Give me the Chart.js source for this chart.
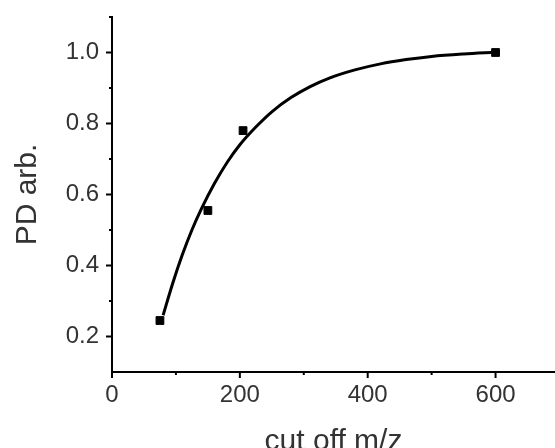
<!DOCTYPE html>
<html><head><meta charset="utf-8">
<script src="https://cdn.jsdelivr.net/npm/chart.js@4/dist/chart.umd.min.js"></script>
<style>html,body{margin:0;padding:0;background:#fff}#wrap{width:555px;height:448px}</style>
</head><body><div id="wrap"><canvas id="c" width="555" height="448"></canvas></div>
<script>
// measured points
const pointX = [75, 150, 205, 600];
const pointY = [0.245, 0.555, 0.78, 1.0];
// fitted curve
const fitX = [80, 95, 110, 125, 140, 160, 180, 200, 225, 250, 280, 310, 340, 380, 420, 460, 500, 550, 600];
const fitY = [0.26, 0.35, 0.43, 0.50, 0.56, 0.63, 0.69, 0.74, 0.79, 0.833, 0.873, 0.904, 0.928, 0.951, 0.968, 0.980, 0.989, 0.996, 1.001];
// ticks
const xMajorTicks = [0, 200, 400, 600];
const xMinorTicks = [100, 300, 500];
const yMajorTicks = [0.2, 0.4, 0.6, 0.8, 1.0];
const yMinorTicks = [0.3, 0.5, 0.7, 0.9, 1.1];
const xTitle = 'cut off m/z';
const yTitle = 'PD arb.';

const FONT = "'Liberation Sans', Arial, sans-serif";

const tickPlugin = {
  id: 'ticks',
  afterDraw(chart) {
    const ctx = chart.ctx, a = chart.chartArea, sx = chart.scales.x, sy = chart.scales.y;
    ctx.save();
    ctx.strokeStyle = '#000'; ctx.lineWidth = 2;
    const ln = (x1, y1, x2, y2) => { ctx.beginPath(); ctx.moveTo(x1, y1); ctx.lineTo(x2, y2); ctx.stroke(); };
    xMajorTicks.forEach(v => { const p = sx.getPixelForValue(v); ln(p, a.bottom, p, a.bottom + 6); });
    xMinorTicks.forEach(v => { const p = sx.getPixelForValue(v); ln(p, a.bottom, p, a.bottom + 3); });
    yMajorTicks.forEach(v => { const p = sy.getPixelForValue(v); ln(a.left, p, a.left - 6, p); });
    yMinorTicks.forEach(v => { const p = sy.getPixelForValue(v); ln(a.left, p, a.left - 3, p); });
    ctx.restore();
  }
};

const zeroPad = s => { s.paddingTop = 0; s.paddingBottom = 0; s.paddingLeft = 0; s.paddingRight = 0; };

new Chart(document.getElementById('c'), {
  type: 'scatter',
  data: {
    datasets: [
      { data: pointX.map((x, i) => ({x, y: pointY[i]})), showLine: false, pointStyle: 'rect',
        pointRadius: 5.5, backgroundColor: '#000', borderColor: '#000', borderWidth: 1, order: 0 },
      { data: fitX.map((x, i) => ({x, y: fitY[i]})), showLine: true, pointRadius: 0,
        borderColor: '#000', borderWidth: 3, cubicInterpolationMode: 'monotone', order: 1 }
    ]
  },
  options: {
    responsive: false, animation: false,
    layout: { autoPadding: false, padding: { top: 17, right: 0, left: 0, bottom: 0 } },
    plugins: { legend: { display: false }, tooltip: { enabled: false } },
    scales: {
      x: {
        type: 'linear', min: 0, max: 693,
        border: { display: true, color: '#000', width: 2 },
        grid: { display: true, drawOnChartArea: false, drawTicks: true, tickLength: 6, tickColor: 'rgba(0,0,0,0)' },
        afterBuildTicks: s => { s.ticks = xMajorTicks.map(v => ({ value: v })); },
        ticks: { padding: 3, color: '#333', font: { family: FONT, size: 24 }, maxRotation: 0, autoSkip: false,
          callback: v => String(v) },
        title: { display: true, text: xTitle, color: '#333', font: { family: FONT, size: 30, lineHeight: 0.6 }, padding: { top: 0, bottom: -3 } },
        afterFit: s => { s.height = 76; zeroPad(s); }
      },
      y: {
        type: 'linear', min: 0.1, max: 1.1,
        border: { display: true, color: '#000', width: 2 },
        grid: { display: true, drawOnChartArea: false, drawTicks: true, tickLength: 6, tickColor: 'rgba(0,0,0,0)' },
        afterBuildTicks: s => { s.ticks = yMajorTicks.map(v => ({ value: v })); },
        ticks: { padding: 7, color: '#333', font: { family: FONT, size: 24 }, autoSkip: false,
          callback: v => Number(v).toFixed(1) },
        title: { display: true, text: yTitle, color: '#333', font: { family: FONT, size: 30 }, padding: { top: 10, bottom: 0 } },
        afterFit: s => { s.width = 112; zeroPad(s); }
      }
    }
  },
  plugins: [tickPlugin]
});
</script></body></html>
